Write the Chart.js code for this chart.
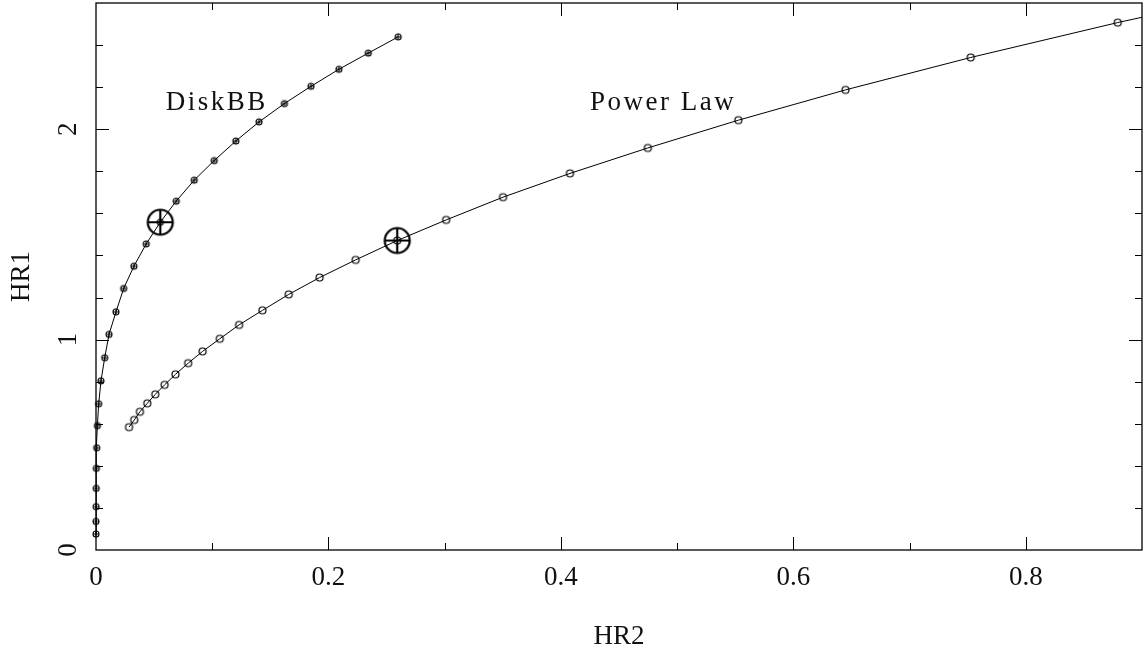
<!DOCTYPE html>
<html>
<head>
<meta charset="utf-8">
<script src="https://cdn.jsdelivr.net/npm/chart.js@4.4.1/dist/chart.umd.min.js"></script>
<style>
  html, body { margin: 0; padding: 0; background: #fff; }
  #wrap { width: 1143px; height: 655px; }
</style>
</head>
<body>
<div id="wrap"><canvas id="hrChart"></canvas></div>
<script>
// DiskBB track (HR2, HR1)
const diskX = [0.0000, 0.0000, 0.0001, 0.0002, 0.0003, 0.0006, 0.0012, 0.0023, 0.0043, 0.0075,
               0.0112, 0.0172, 0.0238, 0.0326, 0.0432, 0.0553, 0.0690, 0.0845, 0.1017, 0.1203,
               0.1403, 0.1621, 0.1850, 0.2090, 0.2343, 0.2600];
const diskY = [0.076, 0.136, 0.206, 0.293, 0.388, 0.486, 0.591, 0.695, 0.804, 0.914,
               1.025, 1.132, 1.243, 1.349, 1.455, 1.558, 1.658, 1.758, 1.851, 1.944,
               2.035, 2.122, 2.204, 2.285, 2.362, 2.439];

// Power law track (last point runs off the right edge)
const powerX = [0.0284, 0.0329, 0.0378, 0.0441, 0.0510, 0.0590, 0.0684, 0.0793, 0.0917, 0.1065,
                0.1231, 0.1432, 0.1658, 0.1924, 0.2234, 0.2592, 0.3013, 0.3502, 0.4078, 0.4748,
                0.5527, 0.6449, 0.7526, 0.8791, 1.0270];
const powerY = [0.584, 0.618, 0.657, 0.697, 0.740, 0.785, 0.835, 0.888, 0.944, 1.004,
                1.070, 1.139, 1.215, 1.295, 1.379, 1.471, 1.569, 1.677, 1.790, 1.911,
                2.043, 2.187, 2.341, 2.507, 2.685];

// highlighted points
const markX = [0.0553, 0.2592];
const markY = [1.558, 1.471];

const curveNames = ['DiskBB', 'Power Law'];
const nameX = [0.104, 0.488];
const nameY = [2.09, 2.09];

const xTickLabels = ['0', '0.2', '0.4', '0.6', '0.8'];
const yTickLabels = ['0', '1', '2'];

const FONT = "'Liberation Serif', 'DejaVu Serif', serif";
const INK = '#000';

function markerImage(r, lw, cross) {
    const size = Math.ceil(2 * r + lw + 2);
    const c = document.createElement('canvas');
    c.width = c.height = size;
    const ctx = c.getContext('2d');
    const m = size / 2;
    ctx.strokeStyle = INK;
    ctx.lineWidth = lw;
    ctx.beginPath();
    ctx.arc(m, m, r, 0, Math.PI * 2);
    ctx.stroke();
    if (cross) {
        ctx.beginPath();
        ctx.moveTo(m - r, m); ctx.lineTo(m + r, m);
        ctx.moveTo(m, m - r); ctx.lineTo(m, m + r);
        ctx.stroke();
    }
    return c;
}

const toPoints = (xs, ys) => xs.map((x, i) => ({ x: x, y: ys[i] }));
const xFmt = v => (Math.abs(v) < 1e-9 ? '0' : v.toFixed(1));
const yFmt = v => String(Math.round(v));

// inward ticks on all four sides + the frame
const framePlugin = {
    id: 'frame',
    afterDraw(chart) {
        const { ctx, chartArea: a, scales: { x, y } } = chart;
        ctx.save();
        ctx.strokeStyle = INK;
        ctx.lineWidth = 1.3;
        ctx.strokeRect(a.left, a.top, a.right - a.left, a.bottom - a.top);
        ctx.lineWidth = 1;
        ctx.beginPath();
        x.ticks.forEach(t => {
            const px = Math.round(x.getPixelForValue(t.value)) + 0.5;
            if (px <= a.left + 1 || px >= a.right - 1) return;
            const len = xTickLabels.includes(xFmt(t.value)) ? 13 : 7;
            ctx.moveTo(px, a.bottom); ctx.lineTo(px, a.bottom - len);
            ctx.moveTo(px, a.top); ctx.lineTo(px, a.top + len);
        });
        y.ticks.forEach(t => {
            const py = Math.round(y.getPixelForValue(t.value)) + 0.5;
            if (py <= a.top + 1 || py >= a.bottom - 1) return;
            const major = Math.abs(t.value - Math.round(t.value)) < 1e-6;
            const len = major ? 13 : 7;
            ctx.moveTo(a.left, py); ctx.lineTo(a.left + len, py);
            ctx.moveTo(a.right, py); ctx.lineTo(a.right - len, py);
        });
        ctx.stroke();
        ctx.restore();
    }
};

// curve names placed in data coordinates
const namesPlugin = {
    id: 'names',
    afterDatasetsDraw(chart) {
        const { ctx, scales: { x, y } } = chart;
        ctx.save();
        ctx.fillStyle = '#111';
        ctx.font = '27px ' + FONT;
        ctx.letterSpacing = '2.5px';
        ctx.textAlign = 'center';
        ctx.textBaseline = 'alphabetic';
        curveNames.forEach((n, i) => {
            ctx.fillText(n, x.getPixelForValue(nameX[i]), y.getPixelForValue(nameY[i]));
        });
        ctx.restore();
    }
};

const smallCross = markerImage(3, 1.1, true);
const smallRing = markerImage(3.5, 1.2, false);
const bigCross = markerImage(12.5, 2.2, true);

new Chart(document.getElementById('hrChart'), {
    type: 'line',
    data: {
        datasets: [
            {
                label: 'highlight',
                data: toPoints(markX, markY),
                showLine: false,
                pointStyle: bigCross,
                pointRadius: 13
            },
            {
                label: 'DiskBB',
                data: toPoints(diskX, diskY),
                borderColor: INK, borderWidth: 1,
                pointStyle: smallCross, pointRadius: 4,
                tension: 0,
                clip: false
            },
            {
                label: 'Power Law',
                data: toPoints(powerX, powerY),
                borderColor: INK, borderWidth: 1,
                pointStyle: smallRing, pointRadius: 4,
                tension: 0
            }
        ]
    },
    options: {
        responsive: true, maintainAspectRatio: false, animation: false,
        events: [],
        layout: { autoPadding: false, padding: { top: 3, right: 1, left: 0, bottom: 0 } },
        plugins: { legend: { display: false }, tooltip: { enabled: false } },
        scales: {
            x: {
                type: 'linear', min: 0, max: 0.9,
                afterFit: s => { s.height = 105; s.paddingLeft = 0; s.paddingRight = 0; },
                grid: { display: false, drawTicks: false },
                border: { display: false },
                ticks: {
                    stepSize: 0.1, autoSkip: false, maxRotation: 0, padding: 12,
                    color: '#111', font: { family: FONT, size: 27 },
                    callback: v => (xTickLabels.includes(xFmt(v)) ? xFmt(v) : '')
                },
                title: {
                    display: true, text: 'HR2', color: '#111',
                    font: { family: FONT, size: 27 }, padding: { top: 22, bottom: 2 }
                }
            },
            y: {
                type: 'linear', min: 0, max: 2.6,
                afterFit: s => { s.width = 96; s.paddingTop = 0; s.paddingBottom = 0; },
                grid: { display: false, drawTicks: false },
                border: { display: false },
                ticks: {
                    stepSize: 0.2, autoSkip: false, minRotation: 90, maxRotation: 90,
                    padding: 20, crossAlign: 'center',
                    color: '#111', font: { family: FONT, size: 27 },
                    callback: v => (yTickLabels.includes(yFmt(v)) && Math.abs(v - Math.round(v)) < 1e-6 ? yFmt(v) : '')
                },
                title: {
                    display: true, text: 'HR1', color: '#111',
                    font: { family: FONT, size: 27 }, padding: { top: 6, bottom: 0 }
                }
            }
        }
    },
    plugins: [framePlugin, namesPlugin]
});
</script>
</body>
</html>
